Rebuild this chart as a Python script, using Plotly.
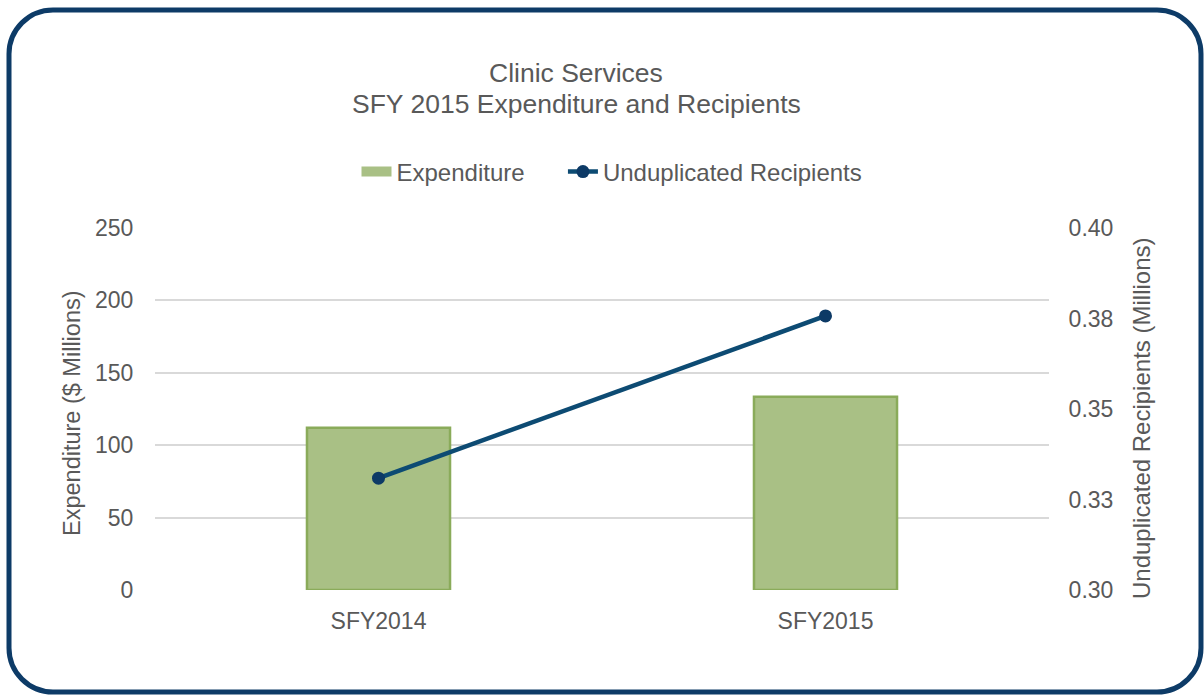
import plotly.graph_objects as go

categories = ["SFY2014", "SFY2015"]
expenditure = [112, 133.5]
recipients = [0.3309, 0.3757]
right_tickvals = [0.30, 0.325, 0.35, 0.375, 0.40]
right_ticktext = ["0.30", "0.33", "0.35", "0.38", "0.40"]
left_tickvals = [0, 50, 100, 150, 200, 250]

W, H = 1204, 696
L, R, T, B = 155, 1049, 228, 590

def px(x):
    return (x - L) / (R - L)

def py(y):
    return (B - y) / (B - T)

GRAY = "#595959"
FONT = "Liberation Sans, Arial, sans-serif"
BAR_FILL = "#a9c085"
BAR_EDGE = "#8aab5a"
NBSP = "\u00a0"

fig = go.Figure()
fig.add_trace(go.Bar(
    x=categories, y=expenditure, name="Expenditure",
    width=0.32, showlegend=False, legendgroup="exp",
    marker=dict(color=BAR_FILL, line=dict(color=BAR_EDGE, width=2.5)),
    yaxis="y",
))
# legend swatch for the bars (wide rectangle look)
fig.add_trace(go.Scatter(
    x=[None], y=[None], name="Expenditure" + NBSP * 5, legendgroup="exp",
    mode="lines", line=dict(color=BAR_FILL, width=17),
    yaxis="y", hoverinfo="skip",
))
fig.add_trace(go.Scatter(
    x=categories, y=recipients, name="Unduplicated Recipients",
    mode="lines+markers",
    line=dict(color="#0d4b73", width=4.5),
    marker=dict(color="#0d3a66", size=13),
    yaxis="y2",
))

# rounded border
x0, x1, y0, y1, r = 9, 1201, 10, 692, 44
k = 0.5523 * r
pts = [
    ("M", [(x0 + r, y0)]),
    ("L", [(x1 - r, y0)]),
    ("C", [(x1 - r + k, y0), (x1, y0 + r - k), (x1, y0 + r)]),
    ("L", [(x1, y1 - r)]),
    ("C", [(x1, y1 - r + k), (x1 - r + k, y1), (x1 - r, y1)]),
    ("L", [(x0 + r, y1)]),
    ("C", [(x0 + r - k, y1), (x0, y1 - r + k), (x0, y1 - r)]),
    ("L", [(x0, y0 + r)]),
    ("C", [(x0, y0 + r - k), (x0 + r - k, y0), (x0 + r, y0)]),
]
path = ""
for cmd, ps in pts:
    path += cmd + " " + " ".join(f"{px(a):.5f},{py(b):.5f}" for a, b in ps) + " "
path += "Z"

fig.update_layout(
    width=W, height=H,
    margin=dict(l=L, r=W - R, t=T, b=H - B),
    paper_bgcolor="white", plot_bgcolor="white",
    font=dict(family=FONT, color=GRAY, size=23),
    showlegend=True,
    legend=dict(orientation="h", x=px(612), xanchor="center", y=py(172), yanchor="middle",
                font=dict(size=24, color=GRAY), traceorder="normal"),
    xaxis=dict(type="category", range=[-0.5, 1.5], showgrid=False, showline=False,
               ticks="outside", ticklen=10, tickcolor="rgba(0,0,0,0)",
               tickfont=dict(size=23, color=GRAY)),
    yaxis=dict(range=[0, 250], tickvals=left_tickvals, showgrid=True,
               gridcolor="#d9d9d9", gridwidth=2, zeroline=False, showline=False,
               ticks="outside", ticklen=16, tickcolor="rgba(0,0,0,0)",
               tickfont=dict(size=23, color=GRAY)),
    yaxis2=dict(range=[0.30, 0.40], tickvals=right_tickvals, ticktext=right_ticktext,
                overlaying="y", side="right", showgrid=False, zeroline=False,
                showline=False, ticks="outside", ticklen=14, tickcolor="rgba(0,0,0,0)",
                tickfont=dict(size=23, color=GRAY)),
    shapes=[dict(type="path", path=path, xref="paper", yref="paper",
                 line=dict(color="#0d3b67", width=5), layer="above")],
    annotations=[
        dict(text="Clinic Services", xref="paper", yref="paper",
             x=px(576), y=py(73), xanchor="center", yanchor="middle",
             showarrow=False, font=dict(size=26.5, color=GRAY)),
        dict(text="SFY 2015 Expenditure and Recipients", xref="paper", yref="paper",
             x=px(576), y=py(104), xanchor="center", yanchor="middle",
             showarrow=False, font=dict(size=26.5, color=GRAY)),
        dict(text="Expenditure ($ Millions)", xref="paper", yref="paper",
             x=px(72), y=py(413), xanchor="center", yanchor="middle", textangle=-90,
             showarrow=False, font=dict(size=23.5, color=GRAY)),
        dict(text="Unduplicated Recipients (Millions)", xref="paper", yref="paper",
             x=px(1141), y=py(418), xanchor="center", yanchor="middle", textangle=-90,
             showarrow=False, font=dict(size=24, color=GRAY)),
    ],
)

fig.write_html("out.html", config={"displayModeBar": False},
               post_script="document.body.style.margin='0';")
